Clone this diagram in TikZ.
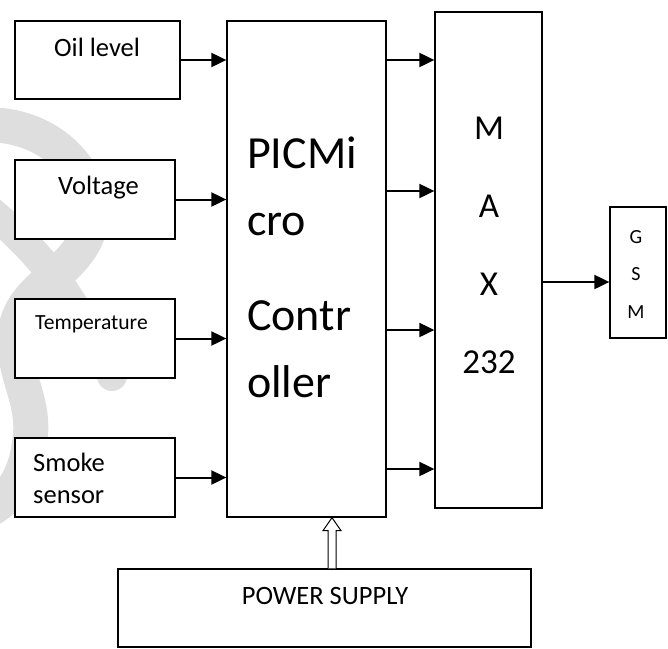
\documentclass[tikz,border=0pt]{standalone}
\usepackage{fontspec}
\setmainfont{Carlito}
\usepackage{xcolor}
\usepackage{tikz}
\usetikzlibrary{arrows.meta,calc}
\definecolor{wmgray}{RGB}{222,222,222}

\begin{document}
\begin{tikzpicture}[x=1pt,y=-1pt,
  blk/.style={draw,line width=1.3pt,fill=white,inner sep=0pt},
  lbl/.style={inner sep=0pt,font=\fontsize{26.5}{32}\selectfont},
  sig/.style={line width=2pt,-{Triangle[length=15pt,width=14pt]}},
  wm/.style={wmgray,line width=35pt}]
\useasboundingbox (0,0) rectangle (668,648);
\draw[wm] (-20,125) .. controls (60,120) and (110,190) .. (85,240) .. controls (65,280) and (15,290) .. (15,340) .. controls (15,380) and (35,400) .. (30,440) .. controls (25,480) and (10,500) .. (-20,515);
\draw[wm,line width=30pt,line cap=round] (-30,195) .. controls (10,225) and (45,260) .. (70,300) .. controls (95,340) and (108,355) .. (112,376);
\node[blk,minimum width=165pt,minimum height=78pt] (oil) at (97.5,60) {};
\node[blk,minimum width=160pt,minimum height=79pt] (volt) at (95,199.5) {};
\node[blk,minimum width=160pt,minimum height=79pt] (temp) at (95,338.5) {};
\node[blk,minimum width=160pt,minimum height=79pt] (smoke) at (95,477.5) {};
\node[blk,minimum width=159pt,minimum height=496pt] (pic) at (306.5,269) {};
\node[blk,minimum width=107pt,minimum height=496pt] (max) at (488.5,260) {};
\node[blk,minimum width=56pt,minimum height=131pt] (gsm) at (638,272.5) {};
\node[blk,minimum width=413pt,minimum height=78pt] (power) at (324.5,608) {};
\node[lbl,anchor=base west] (oiltxt) at (54,56) {Oil level};
\node[lbl,anchor=base west] (volttxt) at (58,194) {Voltage};
\node[lbl,anchor=base west,font=\fontsize{21.6}{25}\selectfont] (temptxt) at (35,329) {Temperature};
\node[lbl,anchor=base west,align=left] (smoketxt) at (33,503) {Smoke\\sensor};
\node[lbl,anchor=base west,align=left,font=\fontsize{46}{67}\selectfont] (pictxt) at (247,397) {PICMi\\cro\\[28pt]Contr\\oller};
\node[lbl,anchor=base,align=center,font=\fontsize{35}{78}\selectfont] (maxtxt) at (489,373) {M\\A\\X\\232};
\node[lbl,anchor=base,align=center,font=\fontsize{20}{37.5}\selectfont] (gsmtxt) at (636,318) {G\\S\\M};
\node[lbl,anchor=base] (powtxt) at (325,604) {POWER SUPPLY};
\foreach \b in {oil,volt,temp,smoke}
  \draw[sig] (\b.east) -- (\b.east -| pic.west);
\foreach \y in {60,191,330,469}
  \draw[sig] (pic.east |- 0,\y) -- (max.west |- 0,\y);
\draw[sig] (max.east |- 0,282) -- (gsm.west |- 0,282);
\coordinate (pw) at (power.north -| 332,0);
\coordinate (tip) at (pic.south -| 332,0);
\draw[line width=1pt,fill=white] ($(pw)+(-4,0)$) -- ($(tip)+(-4,13)$) -- ($(tip)+(-9,13)$) -- (tip) -- ($(tip)+(9,13)$) -- ($(tip)+(4,13)$) -- ($(pw)+(4,0)$);
\end{tikzpicture}
\end{document}
